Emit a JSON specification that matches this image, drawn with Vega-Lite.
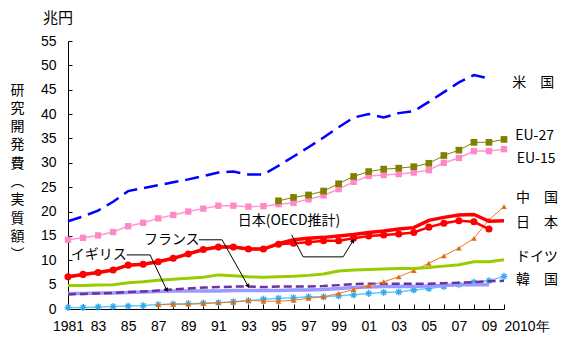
{
"$schema":"https://vega.github.io/schema/vega-lite/v6.json",
"width":436,"height":268,"autosize":"none",
"padding":{"left":68,"top":41,"right":61,"bottom":41},
"background":"white",
"config":{"view":{"stroke":null},"axis":{"grid":false,"labelOverlap":false,"labelBound":false,"labelFlush":false}},
"title":{"text":"兆円","anchor":"start","frame":"group","dx":-25,"offset":8,"font":"Noto Sans CJK JP","fontSize":15,"fontWeight":"normal","color":"black"},
"datasets":{
"series":[
{"s":"US","x":1981,"v":18.0},{"s":"US","x":1982,"v":19.0},{"s":"US","x":1983,"v":20.2},{"s":"US","x":1984,"v":22.0},{"s":"US","x":1985,"v":24.2},{"s":"US","x":1986,"v":24.8},{"s":"US","x":1987,"v":25.4},{"s":"US","x":1988,"v":26.0},{"s":"US","x":1989,"v":26.6},{"s":"US","x":1990,"v":27.3},{"s":"US","x":1991,"v":28.0},{"s":"US","x":1992,"v":28.2},{"s":"US","x":1993,"v":27.6},{"s":"US","x":1994,"v":27.6},{"s":"US","x":1995,"v":29.4},{"s":"US","x":1996,"v":31.3},{"s":"US","x":1997,"v":33.2},{"s":"US","x":1998,"v":35.2},{"s":"US","x":1999,"v":37.3},{"s":"US","x":2000,"v":39.3},{"s":"US","x":2001,"v":40.0},{"s":"US","x":2002,"v":39.3},{"s":"US","x":2003,"v":40.2},{"s":"US","x":2004,"v":40.6},{"s":"US","x":2005,"v":42.5},{"s":"US","x":2006,"v":44.5},{"s":"US","x":2007,"v":46.5},{"s":"US","x":2008,"v":48.0},{"s":"US","x":2009,"v":47.3},
{"s":"EU15","x":1981,"v":14.2},{"s":"EU15","x":1982,"v":14.6},{"s":"EU15","x":1983,"v":15.1},{"s":"EU15","x":1984,"v":15.8},{"s":"EU15","x":1985,"v":17.0},{"s":"EU15","x":1986,"v":17.7},{"s":"EU15","x":1987,"v":18.6},{"s":"EU15","x":1988,"v":19.3},{"s":"EU15","x":1989,"v":20.0},{"s":"EU15","x":1990,"v":20.6},{"s":"EU15","x":1991,"v":21.2},{"s":"EU15","x":1992,"v":21.2},{"s":"EU15","x":1993,"v":21.0},{"s":"EU15","x":1994,"v":21.1},{"s":"EU15","x":1995,"v":21.5},{"s":"EU15","x":1996,"v":21.8},{"s":"EU15","x":1997,"v":22.5},{"s":"EU15","x":1998,"v":23.3},{"s":"EU15","x":1999,"v":24.6},{"s":"EU15","x":2000,"v":26.1},{"s":"EU15","x":2001,"v":27.3},{"s":"EU15","x":2002,"v":27.5},{"s":"EU15","x":2003,"v":27.7},{"s":"EU15","x":2004,"v":28.0},{"s":"EU15","x":2005,"v":28.5},{"s":"EU15","x":2006,"v":30.0},{"s":"EU15","x":2007,"v":31.0},{"s":"EU15","x":2008,"v":32.4},{"s":"EU15","x":2009,"v":32.4},{"s":"EU15","x":2010,"v":32.8},
{"s":"EU27","x":1995,"v":22.2},{"s":"EU27","x":1996,"v":22.9},{"s":"EU27","x":1997,"v":23.4},{"s":"EU27","x":1998,"v":24.2},{"s":"EU27","x":1999,"v":25.7},{"s":"EU27","x":2000,"v":27.2},{"s":"EU27","x":2001,"v":28.2},{"s":"EU27","x":2002,"v":28.7},{"s":"EU27","x":2003,"v":28.9},{"s":"EU27","x":2004,"v":29.2},{"s":"EU27","x":2005,"v":29.9},{"s":"EU27","x":2006,"v":31.5},{"s":"EU27","x":2007,"v":32.6},{"s":"EU27","x":2008,"v":34.2},{"s":"EU27","x":2009,"v":34.2},{"s":"EU27","x":2010,"v":34.8},
{"s":"JP","x":1981,"v":6.6},{"s":"JP","x":1982,"v":7.1},{"s":"JP","x":1983,"v":7.5},{"s":"JP","x":1984,"v":8.0},{"s":"JP","x":1985,"v":9.0},{"s":"JP","x":1986,"v":9.2},{"s":"JP","x":1987,"v":9.7},{"s":"JP","x":1988,"v":10.4},{"s":"JP","x":1989,"v":11.3},{"s":"JP","x":1990,"v":12.2},{"s":"JP","x":1991,"v":12.7},{"s":"JP","x":1992,"v":12.7},{"s":"JP","x":1993,"v":12.3},{"s":"JP","x":1994,"v":12.3},{"s":"JP","x":1995,"v":13.4},{"s":"JP","x":1996,"v":14.2},{"s":"JP","x":1997,"v":14.5},{"s":"JP","x":1998,"v":14.7},{"s":"JP","x":1999,"v":15.0},{"s":"JP","x":2000,"v":15.3},{"s":"JP","x":2001,"v":15.7},{"s":"JP","x":2002,"v":16.0},{"s":"JP","x":2003,"v":16.4},{"s":"JP","x":2004,"v":16.7},{"s":"JP","x":2005,"v":18.2},{"s":"JP","x":2006,"v":18.8},{"s":"JP","x":2007,"v":19.3},{"s":"JP","x":2008,"v":19.4},{"s":"JP","x":2009,"v":18.0},{"s":"JP","x":2010,"v":18.1},
{"s":"JPO","x":1981,"v":6.6},{"s":"JPO","x":1982,"v":7.1},{"s":"JPO","x":1983,"v":7.5},{"s":"JPO","x":1984,"v":8.0},{"s":"JPO","x":1985,"v":9.0},{"s":"JPO","x":1986,"v":9.2},{"s":"JPO","x":1987,"v":9.7},{"s":"JPO","x":1988,"v":10.4},{"s":"JPO","x":1989,"v":11.3},{"s":"JPO","x":1990,"v":12.2},{"s":"JPO","x":1991,"v":12.7},{"s":"JPO","x":1992,"v":12.7},{"s":"JPO","x":1993,"v":12.3},{"s":"JPO","x":1994,"v":12.3},{"s":"JPO","x":1995,"v":13.3},{"s":"JPO","x":1996,"v":13.5},{"s":"JPO","x":1997,"v":13.7},{"s":"JPO","x":1998,"v":14.0},{"s":"JPO","x":1999,"v":14.0},{"s":"JPO","x":2000,"v":14.5},{"s":"JPO","x":2001,"v":15.0},{"s":"JPO","x":2002,"v":15.2},{"s":"JPO","x":2003,"v":15.4},{"s":"JPO","x":2004,"v":15.7},{"s":"JPO","x":2005,"v":16.8},{"s":"JPO","x":2006,"v":17.6},{"s":"JPO","x":2007,"v":18.1},{"s":"JPO","x":2008,"v":17.9},{"s":"JPO","x":2009,"v":16.4},
{"s":"DE","x":1981,"v":4.8},{"s":"DE","x":1982,"v":4.8},{"s":"DE","x":1983,"v":4.9},{"s":"DE","x":1984,"v":5.0},{"s":"DE","x":1985,"v":5.4},{"s":"DE","x":1986,"v":5.6},{"s":"DE","x":1987,"v":5.9},{"s":"DE","x":1988,"v":6.1},{"s":"DE","x":1989,"v":6.3},{"s":"DE","x":1990,"v":6.5},{"s":"DE","x":1991,"v":7.0},{"s":"DE","x":1992,"v":6.8},{"s":"DE","x":1993,"v":6.6},{"s":"DE","x":1994,"v":6.5},{"s":"DE","x":1995,"v":6.6},{"s":"DE","x":1996,"v":6.7},{"s":"DE","x":1997,"v":6.9},{"s":"DE","x":1998,"v":7.2},{"s":"DE","x":1999,"v":7.8},{"s":"DE","x":2000,"v":8.0},{"s":"DE","x":2001,"v":8.1},{"s":"DE","x":2002,"v":8.2},{"s":"DE","x":2003,"v":8.3},{"s":"DE","x":2004,"v":8.3},{"s":"DE","x":2005,"v":8.5},{"s":"DE","x":2006,"v":8.8},{"s":"DE","x":2007,"v":9.1},{"s":"DE","x":2008,"v":9.7},{"s":"DE","x":2009,"v":9.7},{"s":"DE","x":2010,"v":10.1},
{"s":"FR","x":1981,"v":3.0},{"s":"FR","x":1982,"v":3.1},{"s":"FR","x":1983,"v":3.2},{"s":"FR","x":1984,"v":3.3},{"s":"FR","x":1985,"v":3.5},{"s":"FR","x":1986,"v":3.6},{"s":"FR","x":1987,"v":3.8},{"s":"FR","x":1988,"v":4.0},{"s":"FR","x":1989,"v":4.2},{"s":"FR","x":1990,"v":4.4},{"s":"FR","x":1991,"v":4.5},{"s":"FR","x":1992,"v":4.6},{"s":"FR","x":1993,"v":4.6},{"s":"FR","x":1994,"v":4.5},{"s":"FR","x":1995,"v":4.6},{"s":"FR","x":1996,"v":4.6},{"s":"FR","x":1997,"v":4.6},{"s":"FR","x":1998,"v":4.7},{"s":"FR","x":1999,"v":4.9},{"s":"FR","x":2000,"v":5.1},{"s":"FR","x":2001,"v":5.2},{"s":"FR","x":2002,"v":5.2},{"s":"FR","x":2003,"v":5.2},{"s":"FR","x":2004,"v":5.2},{"s":"FR","x":2005,"v":5.2},{"s":"FR","x":2006,"v":5.3},{"s":"FR","x":2007,"v":5.4},{"s":"FR","x":2008,"v":5.5},{"s":"FR","x":2009,"v":5.7},{"s":"FR","x":2010,"v":5.8},
{"s":"UK","x":1981,"v":3.2},{"s":"UK","x":1982,"v":3.2},{"s":"UK","x":1983,"v":3.3},{"s":"UK","x":1984,"v":3.3},{"s":"UK","x":1985,"v":3.4},{"s":"UK","x":1986,"v":3.5},{"s":"UK","x":1987,"v":3.6},{"s":"UK","x":1988,"v":3.7},{"s":"UK","x":1989,"v":3.7},{"s":"UK","x":1990,"v":3.7},{"s":"UK","x":1991,"v":3.7},{"s":"UK","x":1992,"v":3.8},{"s":"UK","x":1993,"v":3.8},{"s":"UK","x":1994,"v":3.8},{"s":"UK","x":1995,"v":3.8},{"s":"UK","x":1996,"v":3.9},{"s":"UK","x":1997,"v":3.9},{"s":"UK","x":1998,"v":4.0},{"s":"UK","x":1999,"v":4.2},{"s":"UK","x":2000,"v":4.4},{"s":"UK","x":2001,"v":4.5},{"s":"UK","x":2002,"v":4.6},{"s":"UK","x":2003,"v":4.6},{"s":"UK","x":2004,"v":4.6},{"s":"UK","x":2005,"v":4.7},{"s":"UK","x":2006,"v":4.8},{"s":"UK","x":2007,"v":5.0},{"s":"UK","x":2008,"v":5.0},{"s":"UK","x":2009,"v":5.0},
{"s":"KR","x":1981,"v":0.3},{"s":"KR","x":1982,"v":0.3},{"s":"KR","x":1983,"v":0.4},{"s":"KR","x":1984,"v":0.5},{"s":"KR","x":1985,"v":0.6},{"s":"KR","x":1986,"v":0.7},{"s":"KR","x":1987,"v":0.9},{"s":"KR","x":1988,"v":1.0},{"s":"KR","x":1989,"v":1.1},{"s":"KR","x":1990,"v":1.2},{"s":"KR","x":1991,"v":1.3},{"s":"KR","x":1992,"v":1.5},{"s":"KR","x":1993,"v":1.7},{"s":"KR","x":1994,"v":2.0},{"s":"KR","x":1995,"v":2.2},{"s":"KR","x":1996,"v":2.3},{"s":"KR","x":1997,"v":2.5},{"s":"KR","x":1998,"v":2.5},{"s":"KR","x":1999,"v":2.7},{"s":"KR","x":2000,"v":2.9},{"s":"KR","x":2001,"v":3.2},{"s":"KR","x":2002,"v":3.4},{"s":"KR","x":2003,"v":3.5},{"s":"KR","x":2004,"v":3.9},{"s":"KR","x":2005,"v":4.2},{"s":"KR","x":2006,"v":4.6},{"s":"KR","x":2007,"v":5.0},{"s":"KR","x":2008,"v":5.5},{"s":"KR","x":2009,"v":5.8},{"s":"KR","x":2010,"v":6.7},
{"s":"CN","x":1987,"v":0.9},{"s":"CN","x":1988,"v":1.0},{"s":"CN","x":1989,"v":1.0},{"s":"CN","x":1990,"v":1.1},{"s":"CN","x":1991,"v":1.3},{"s":"CN","x":1992,"v":1.4},{"s":"CN","x":1993,"v":1.8},{"s":"CN","x":1994,"v":1.6},{"s":"CN","x":1995,"v":1.6},{"s":"CN","x":1996,"v":1.8},{"s":"CN","x":1997,"v":2.2},{"s":"CN","x":1998,"v":2.5},{"s":"CN","x":1999,"v":3.2},{"s":"CN","x":2000,"v":4.0},{"s":"CN","x":2001,"v":4.8},{"s":"CN","x":2002,"v":5.6},{"s":"CN","x":2003,"v":6.6},{"s":"CN","x":2004,"v":7.9},{"s":"CN","x":2005,"v":9.4},{"s":"CN","x":2006,"v":10.9},{"s":"CN","x":2007,"v":12.5},{"s":"CN","x":2008,"v":14.5},{"s":"CN","x":2009,"v":18.3},{"s":"CN","x":2010,"v":21.0}
],
"rlabels":[
{"t":"米　国","x":2010.55,"v":46.4},{"t":"EU-27","x":2010.75,"v":35.5},{"t":"EU-15","x":2010.85,"v":30.7},{"t":"中　国","x":2010.8,"v":22.7},{"t":"日　本","x":2010.8,"v":17.6},{"t":"ドイツ","x":2010.8,"v":10.6},{"t":"韓　国","x":2010.8,"v":5.95}
],
"ilabels":[
{"t":"イギリス","x":1983.05,"v":11.0},{"t":"フランス","x":1987.9,"v":14.1},{"t":"日本(OECD推計)","x":1995.7,"v":18.0}
],
"leaders":[
{"g":"uk","o":1,"x":1984.9,"v":11.1},{"g":"uk","o":2,"x":1986.46,"v":11.1},{"g":"uk","o":3,"x":1987.57,"v":3.9},
{"g":"fr","o":1,"x":1989.7,"v":14.2},{"g":"fr","o":2,"x":1991.25,"v":14.2},{"g":"fr","o":3,"x":1992.98,"v":4.7},
{"g":"jp","o":1,"x":1995.88,"v":15.2},{"g":"jp","o":2,"x":1996.64,"v":10.7},{"g":"jp","o":3,"x":1999.3,"v":10.7},{"g":"jp","o":4,"x":1999.96,"v":14.0}
]
},
"encoding":{
  "x":{"field":"x","type":"quantitative","scale":{"domain":[1981,2010],"nice":false,"zero":false},
   "axis":{"values":[1981,1982,1983,1984,1985,1986,1987,1988,1989,1990,1991,1992,1993,1994,1995,1996,1997,1998,1999,2000,2001,2002,2003,2004,2005,2006,2007,2008,2009,2010],
    "labelExpr":"datum.value==1981?'1981':(datum.value==2010?'2010年':(datum.value%2==1?((datum.value%100<10?'0':'')+(datum.value%100)):''))",
    "labelAlign":{"condition":{"test":"datum.value==2010","value":"left"},"value":"center"},
    "labelOverlap":false,"labelBound":false,"labelFlush":false,"labelSeparation":0,
    "title":null,"tickSize":-5,"tickColor":"black","domainColor":"black","labelColor":"black",
    "labelFont":"Liberation Sans","labelFontSize":14,"labelPadding":15}},
  "y":{"field":"v","type":"quantitative","scale":{"domain":[0,55],"nice":false,"zero":false},
   "axis":{"values":[0,5,10,15,20,25,30,35,40,45,50,55],"labelOverlap":false,"labelSeparation":0,"tickSize":-4,"tickColor":"black","domainColor":"black","labelColor":"black",
    "labelFont":"Liberation Sans","labelFontSize":14,"labelPadding":16,
    "title":["研","究","開","発","費","︵","実","質","額","︶"],"titleAngle":0,"titleX":-51,"titleY":42,"titleAlign":"center","titleBaseline":"top",
    "titleFont":"Noto Sans CJK JP","titleFontSize":14,"titleFontWeight":"normal","titleColor":"black","titleLineHeight":18.3}}
},
"layer":[
{"data":{"name":"series"},"transform":[{"filter":"datum.s=='KR'"}],"mark":{"type":"line","color":"#66CCFF","strokeWidth":1.5}},
{"data":{"name":"series"},"transform":[{"filter":"datum.s=='KR'"}],"mark":{"type":"point","shape":"M-1,0L1,0M0,-1L0,1M-0.7,-0.7L0.7,0.7M-0.7,0.7L0.7,-0.7","filled":false,"color":"#33AAEE","strokeWidth":1.3,"size":50,"opacity":1}},
{"data":{"name":"series"},"transform":[{"filter":"datum.s=='UK'"}],"mark":{"type":"line","color":"#9999FF","strokeWidth":3.5}},
{"data":{"name":"series"},"transform":[{"filter":"datum.s=='FR'"}],"mark":{"type":"line","color":"#7030A0","strokeWidth":2.5,"strokeDash":[8,4]}},
{"data":{"name":"series"},"transform":[{"filter":"datum.s=='CN'"}],"mark":{"type":"line","color":"#F07820","strokeWidth":1}},
{"data":{"name":"series"},"transform":[{"filter":"datum.s=='CN'"}],"mark":{"type":"point","shape":"triangle-up","filled":true,"color":"#E36C09","size":32,"opacity":1}},
{"data":{"name":"series"},"transform":[{"filter":"datum.s=='DE'"}],"mark":{"type":"line","color":"#99CC00","strokeWidth":3}},
{"data":{"name":"series"},"transform":[{"filter":"datum.s=='JP'"}],"mark":{"type":"line","color":"#FF0000","strokeWidth":3.5}},
{"data":{"name":"series"},"transform":[{"filter":"datum.s=='JPO'"}],"mark":{"type":"line","color":"#FF0000","strokeWidth":2.5}},
{"data":{"name":"series"},"transform":[{"filter":"datum.s=='JPO'"}],"mark":{"type":"point","shape":"circle","filled":true,"color":"#FF0000","size":50,"opacity":1}},
{"data":{"name":"series"},"transform":[{"filter":"datum.s=='EU15'"}],"mark":{"type":"line","color":"#FF99CC","strokeWidth":1.5}},
{"data":{"name":"series"},"transform":[{"filter":"datum.s=='EU15'"}],"mark":{"type":"point","shape":"square","filled":true,"color":"#FF88C8","size":40,"opacity":1}},
{"data":{"name":"series"},"transform":[{"filter":"datum.s=='EU27'"}],"mark":{"type":"line","color":"#808000","strokeWidth":1}},
{"data":{"name":"series"},"transform":[{"filter":"datum.s=='EU27'"}],"mark":{"type":"point","shape":"square","filled":true,"color":"#808000","size":45,"opacity":1}},
{"data":{"name":"series"},"transform":[{"filter":"datum.s=='US'"}],"mark":{"type":"line","color":"#0000FF","strokeWidth":2.5,"strokeDash":[14,7]}},
{"data":{"name":"leaders"},"mark":{"type":"line","color":"black","strokeWidth":1,"clip":false},
 "encoding":{"detail":{"field":"g"},"order":{"field":"o"}}},
{"data":{"name":"leaders"},"transform":[{"filter":"datum.g=='uk' && datum.o==3"}],"mark":{"type":"point","shape":"triangle-down","filled":true,"color":"black","size":22,"angle":334,"opacity":1}},
{"data":{"name":"leaders"},"transform":[{"filter":"datum.g=='fr' && datum.o==3"}],"mark":{"type":"point","shape":"triangle-down","filled":true,"color":"black","size":22,"angle":330,"opacity":1}},
{"data":{"name":"leaders"},"transform":[{"filter":"datum.g=='jp' && datum.o==4"}],"mark":{"type":"point","shape":"triangle-up","filled":true,"color":"black","size":22,"angle":32,"opacity":1}},
{"data":{"name":"ilabels"},"mark":{"type":"text","align":"center","baseline":"middle","font":"Noto Sans CJK JP","fontSize":14,"color":"black"},
 "encoding":{"text":{"field":"t"}}},
{"data":{"name":"rlabels"},"mark":{"type":"text","align":"left","baseline":"middle","font":"Noto Sans CJK JP","fontSize":14,"color":"black","clip":false},
 "encoding":{"text":{"field":"t"}}}
]
}
